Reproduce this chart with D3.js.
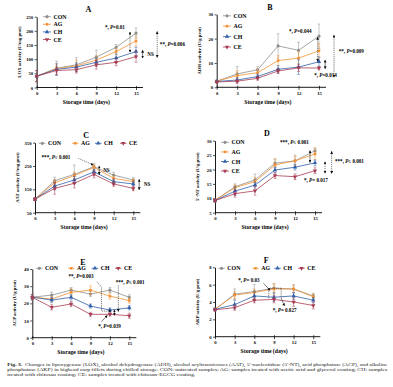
<!DOCTYPE html>
<html>
<head>
<meta charset="utf-8">
<script src="https://cdn.jsdelivr.net/npm/d3@7"></script>
<style>
  body { margin: 0; background: #fff; }
  svg { display: block; }
  text { font-family: "Liberation Serif", "Times New Roman", serif; }
</style>
</head>
<body>
<svg id="fig" width="393" height="387"></svg>
<script>
var days = [0, 3, 6, 9, 12, 15];
var groups = ["CON", "AG", "CH", "CE"];
var groupColors = ["#8f8f8f", "#f39233", "#2f5fa9", "#a83c52"];
var groupSymbols = [d3.symbolCircle, d3.symbolSquare, d3.symbolTriangle, d3.symbolTriangle];

// A - LOX
var loxTicks = [0, 50, 100, 150, 200, 250];
var loxMean = [
  [40, 68, 80, 107, 142, 192],
  [40, 67, 76, 97, 127, 164],
  [40, 64, 72, 89, 104, 127],
  [40, 60, 63, 80, 89, 109]
];
var loxErr = [
  [20, 25, 25, 25, 10, 18],
  [20, 15, 20, 15, 12, 18],
  [20, 20, 15, 15, 15, 15],
  [20, 15, 12, 15, 12, 20]
];
// B - ADH
var adhTicks = [0, 10, 20, 30];
var adhMean = [
  [2.5, 5.5, 7.2, 17, 15.2, 21],
  [2.5, 4.8, 6, 11, 12, 15],
  [2.4, 3, 4.4, 7.4, 8.3, 10.5],
  [2.2, 2.5, 3.7, 6.7, 8, 7.9]
];
var adhErr = [
  [0.4, 3, 1.3, 5, 3.3, 5],
  [0.4, 2, 1.5, 2, 2.5, 3],
  [0.4, 1, 1, 1.5, 3, 2],
  [0.4, 1, 0.8, 1, 1.5, 0.8]
];
// C - AAT
var aatTicks = [50, 150, 250, 350];
var aatMean = [
  [108, 187, 214, 247, 211, 190],
  [108, 178, 209, 244, 197, 183],
  [108, 164, 190, 225, 183, 173],
  [108, 154, 176, 214, 173, 154]
];
var aatErr = [
  [6, 15, 40, 15, 12, 10],
  [6, 12, 15, 12, 10, 10],
  [6, 15, 15, 12, 10, 10],
  [6, 25, 20, 15, 10, 10]
];
// D - 5'-NT
var ntTicks = [5, 10, 15, 20, 25, 30];
var ntMean = [
  [9.3, 14, 16.4, 22.2, 23, 26.5],
  [9.3, 13.7, 15.8, 21.6, 23, 25.4],
  [9.2, 12.5, 14.6, 19.8, 20.8, 22.3],
  [9.2, 11.6, 12.6, 17.9, 17.5, 19.6]
];
var ntErr = [
  [0.5, 1, 2, 1.5, 2, 1],
  [0.5, 1, 1.5, 2, 1.5, 2],
  [0.5, 1.5, 1, 1, 1, 1],
  [0.5, 1.2, 1.5, 1, 1, 1]
];
// E - ACP
var acpTicks = [0, 10, 20, 30, 40];
var acpMean = [
  [23.6, 24.8, 27.7, 25.4, 27.7, 23.5],
  [23.6, 22.5, 26.4, 27.7, 24.2, 21.6],
  [23.6, 21.9, 23.5, 18.4, 16.1, 17.4],
  [23.5, 17.7, 19.6, 13.6, 13.6, 12.8]
];
var acpErr = [
  [1.5, 1.8, 1.5, 1.5, 1.5, 1.5],
  [1.5, 1.5, 2, 2.5, 1.8, 1.5],
  [1.5, 1.5, 1.5, 1.2, 1.2, 1.2],
  [1.5, 1.5, 1.5, 1.2, 1, 1.5]
];
// F - AKP
var akpTicks = [0, 2, 4, 6, 8];
var akpMean = [
  [3.15, 4.9, 5.2, 5.6, 5.5, 4.7],
  [3.15, 4.8, 5.1, 5.5, 5.5, 4.6],
  [3.15, 3.7, 4.7, 4.55, 4.7, 4.2],
  [3.1, 3.35, 4.2, 4.3, 4.0, 3.6]
];
var akpErr = [
  [0.15, 0.6, 0.8, 0.5, 0.5, 0.3],
  [0.15, 0.4, 0.4, 0.6, 0.4, 0.3],
  [0.15, 0.5, 0.5, 0.5, 0.4, 0.3],
  [0.15, 0.3, 0.3, 0.4, 0.5, 0.4]
];

var captionLines = [
  "Changes in lipoxygenase (LOX), alcohol dehydrogenase (ADH), alcohol acyltransferases (AAT), 5\u2032-nucleotidase (5\u2032-NT), acid phosphatase (ACP), and alkaline",
  "phosphatase (AKP) in bighead carp fillets during chilled storage. CON: untreated samples; AG: samples treated with acetic acid and glycerol coating; CH: samples",
  "treated with chitosan coating; CE: samples treated with chitosan-EGCG coating."
];
var captionWidths = [380, 380, 188];

var svg = d3.select("#fig");
var defs = svg.append("defs");
defs.append("marker")
  .attr("id", "ah")
  .attr("viewBox", "0 0 10 10")
  .attr("refX", 9).attr("refY", 5)
  .attr("markerWidth", 2.8).attr("markerHeight", 2.8)
  .attr("markerUnits", "userSpaceOnUse")
  .attr("orient", "auto-start-reverse")
  .append("path").attr("d", "M0,0L10,5L0,10z").attr("fill", "#111");

var panels = [
  { letter: "A", ylabel: "LOX activity (U/mg prot)", means: loxMean, errs: loxErr, ticks: loxTicks,
    x0: 36.7, x15: 136, yTop: 16.7, yBot: 87.5,
    legend: { type: "v", x: 43, y: 16.7, dy: 7.6 },
    notes: [
      { d: 10.3, v: 208, t: "*, P=0.01" },
      { d: 16.7, v: 112, t: "NS" },
      { d: 18.6, v: 147, t: "**, P=0.006" }
    ],
    arrows: [
      { a: [14.1, 196], b: [14.1, 125], dash: true, both: true },
      { a: [16.0, 132], b: [16.0, 104], dash: false, both: true },
      { a: [18.2, 198], b: [18.2, 106], dash: true, both: true }
    ] },
  { letter: "B", ylabel: "ADH activity (U/g prot)", means: adhMean, errs: adhErr, ticks: adhTicks,
    x0: 216.7, x15: 319, yTop: 14.3, yBot: 87.3,
    legend: { type: "v", x: 223, y: 15.8, dy: 10.4 },
    notes: [
      { d: 10.6, v: 22.2, t: "*, P=0.044" },
      { d: 17.9, v: 13.9, t: "**, P=0.009" },
      { d: 14.3, v: 4.1, t: "*, P=0.014" }
    ],
    arrows: [
      { a: [14.8, 20.6], b: [14.8, 10.6], dash: true, both: true },
      { a: [15.9, 11.2], b: [15.9, 7.6], dash: false, both: true },
      { a: [17.2, 21.5], b: [17.2, 4.1], dash: true, both: true }
    ] },
  { letter: "C", ylabel: "AAT activity (U/mg prot)", means: aatMean, errs: aatErr, ticks: aatTicks,
    x0: 35, x15: 133.3, yTop: 142.6, yBot: 212.7,
    legend: { type: "h", xs: [39, 72, 95, 120], y: 143.3 },
    notes: [
      { d: 1.0, v: 280, t: "***, P\u2264 0.001" },
      { d: 10.4, v: 224, t: "NS" },
      { d: 16.6, v: 163, t: "NS" }
    ],
    arrows: [
      { a: [6.6, 283], b: [8.9, 254], dash: true, both: false },
      { a: [9.8, 250], b: [9.8, 213], dash: false, both: true },
      { a: [15.9, 193], b: [15.9, 148], dash: false, both: true }
    ] },
  { letter: "D", ylabel: "5\u2032-NT activity (U/g prot)", means: ntMean, errs: ntErr, ticks: ntTicks,
    x0: 215, x15: 315, yTop: 140.7, yBot: 212.7,
    legend: { type: "v", x: 221, y: 142.3, dy: 9.6 },
    notes: [
      { d: 9.75, v: 29.0, t: "***, P\u2264 0.001" },
      { d: 18.0, v: 22.1, t: "***, P\u2264 0.001" },
      { d: 13.35, v: 15.7, t: "*, P= 0.017" }
    ],
    arrows: [
      { a: [14.25, 26.6], b: [14.25, 22.4], dash: false, both: true },
      { a: [16.5, 22.7], b: [16.5, 18.7], dash: true, both: true },
      { a: [17.5, 26.3], b: [17.5, 18.6], dash: true, both: true }
    ] },
  { letter: "E", ylabel: "ACP activity (U/g prot)", means: acpMean, errs: acpErr, ticks: acpTicks,
    x0: 32.3, x15: 129.3, yTop: 269, yBot: 337.7,
    legend: { type: "h", xs: [36, 68, 91.7, 115], y: 268.3 },
    notes: [
      { d: 5.6, v: 34.5, t: "**, P=0.003" },
      { d: 12.9, v: 31.0, t: "***, P\u2264 0.001" },
      { d: 10.2, v: 5.8, t: "*, P=0.039" }
    ],
    arrows: [
      { pts: [[10.0, 32.6], [10.7, 29.5], [10.7, 15.5], [12.2, 15.5]], dash: true, both: false },
      { a: [13.3, 30.5], b: [13.3, 15.2], dash: true, both: false },
      { a: [12.7, 16.2], b: [12.7, 13.0], dash: false, both: true },
      { a: [10.7, 9.3], b: [11.6, 13.0], dash: false, both: false }
    ] },
  { letter: "F", ylabel: "AKP activity (U/g prot)", means: akpMean, errs: akpErr, ticks: akpTicks,
    x0: 215, x15: 313.3, yTop: 267.3, yBot: 336.7,
    legend: { type: "h", xs: [218.3, 252.3, 274.3, 298.3], y: 268.3 },
    notes: [
      { d: 3.55, v: 6.35, t: "*, P= 0.03" },
      { d: 8.8, v: 2.85, t: "*, P= 0.027" }
    ],
    arrows: [
      { a: [7.4, 6.16], b: [8.4, 5.35], dash: false, both: false },
      { pts: [[8.2, 4.45], [8.2, 5.58], [10.1, 5.58], [10.1, 4.45]], dash: true, both: false, noHead: true },
      { a: [10.1, 4.45], b: [10.6, 3.55], dash: false, both: false }
    ] }
];

panels.forEach(drawPanel);

function drawPanel(p) {
  var x = d3.scaleLinear().domain([0, 15]).range([p.x0, p.x15]);
  var y = d3.scaleLinear().domain([p.ticks[0], p.ticks[p.ticks.length - 1]]).range([p.yBot, p.yTop]);
  var g = svg.append("g");

  // y axis
  var ya = g.append("g")
    .attr("transform", "translate(" + p.x0 + ",0)")
    .call(d3.axisLeft(y).tickValues(p.ticks).tickSize(2).tickPadding(1.5).tickSizeOuter(0));
  // x axis
  var xa = g.append("g")
    .attr("transform", "translate(0," + p.yBot + ")")
    .call(d3.axisBottom(x).tickValues(days).tickSize(2.5).tickPadding(1.8));
  xa.select(".domain").remove();
  xa.selectAll(".tick line").attr("y1", -1.5);
  xa.append("line")
    .attr("x1", p.x0).attr("x2", p.x15 + 7)
    .attr("stroke", "#000").attr("stroke-width", 0.9);
  [ya, xa].forEach(function (a) {
    a.select(".domain").attr("stroke-width", 0.9);
    a.selectAll(".tick line").attr("stroke-width", 0.7);
    a.selectAll(".tick text")
      .style("font-family", "Liberation Serif, serif")
      .style("font-size", "4.7px").style("font-weight", "bold").attr("fill", "#000");
  });

  // axis titles
  g.append("text")
    .attr("x", (p.x0 + p.x15) / 2).attr("y", p.yBot + 16.5)
    .attr("text-anchor", "middle")
    .style("font-size", "5.7px").style("font-weight", "bold")
    .text("Storage time (days)");
  g.append("text")
    .attr("transform", "translate(" + (p.x0 - 16) + "," + ((p.yTop + p.yBot) / 2) + ") rotate(-90)")
    .attr("text-anchor", "middle")
    .style("font-size", "4.7px").style("font-weight", "bold")
    .text(p.ylabel);
  g.append("text")
    .attr("x", (p.x0 + p.x15) / 2 + 2).attr("y", p.yTop - 4.5)
    .attr("text-anchor", "middle")
    .style("font-size", "8px").style("font-weight", "bold")
    .text(p.letter);

  // series
  var line = d3.line()
    .x(function (d, i) { return x(days[i]); })
    .y(function (d) { return y(d); });

  p.means.forEach(function (series, k) {
    var col = groupColors[k];
    var sg = g.append("g");
    sg.selectAll(".eb")
      .data(series)
      .enter().append("path")
      .attr("d", function (d, i) {
        var cx = x(days[i]), y1 = y(d + p.errs[k][i]), y2 = y(d - p.errs[k][i]);
        return "M" + cx + "," + y1 + "V" + y2 +
          "M" + (cx - 1.4) + "," + y1 + "H" + (cx + 1.4) +
          "M" + (cx - 1.4) + "," + y2 + "H" + (cx + 1.4);
      })
      .attr("stroke", col).attr("stroke-width", 0.5).attr("fill", "none");
    sg.append("path")
      .datum(series)
      .attr("d", line)
      .attr("fill", "none").attr("stroke", col).attr("stroke-width", 0.8);
    sg.selectAll(".pt")
      .data(series)
      .enter().append("path")
      .attr("d", d3.symbol().type(groupSymbols[k]).size(k === 1 ? 6.5 : 8))
      .attr("transform", function (d, i) {
        return "translate(" + x(days[i]) + "," + y(d) + ")" + (k === 3 ? " rotate(180)" : "");
      })
      .attr("fill", col);
  });

  // legend
  groups.forEach(function (name, k) {
    var lx, ly;
    if (p.legend.type === "v") { lx = p.legend.x; ly = p.legend.y + k * p.legend.dy; }
    else { lx = p.legend.xs[k]; ly = p.legend.y; }
    var w = p.legend.type === "v" ? 8 : 6.5;
    g.append("line")
      .attr("x1", lx).attr("x2", lx + w).attr("y1", ly).attr("y2", ly)
      .attr("stroke", groupColors[k]).attr("stroke-width", 0.8);
    g.append("path")
      .attr("d", d3.symbol().type(groupSymbols[k]).size(k === 1 ? 6.5 : 8))
      .attr("transform", "translate(" + (lx + w / 2) + "," + ly + ")" + (k === 3 ? " rotate(180)" : ""))
      .attr("fill", groupColors[k]);
    g.append("text")
      .attr("x", lx + w + 2.5).attr("y", ly + 2)
      .style("font-size", "5.9px").style("font-weight", "bold")
      .text(name);
  });

  // annotations
  p.notes.forEach(function (n) {
    var t = g.append("text")
      .attr("x", x(n.d)).attr("y", y(n.v))
      .style("font-size", "5.1px").style("font-weight", "bold");
    var idx = n.t.indexOf("P");
    if (idx < 0) { t.text(n.t); return; }
    t.append("tspan").text(n.t.slice(0, idx).replace(/\s+$/, "") + "\u00a0");
    t.append("tspan").style("font-style", "italic").text("P");
    t.append("tspan").text(n.t.slice(idx + 1));
  });
  p.arrows.forEach(function (a) {
    var pts = a.pts ? a.pts : [a.a, a.b];
    var el = g.append("path")
      .attr("d", d3.line().x(function (d) { return x(d[0]); }).y(function (d) { return y(d[1]); })(pts))
      .attr("fill", "none").attr("stroke", "#111").attr("stroke-width", 0.55);
    if (a.dash) el.attr("stroke-dasharray", "1.2,0.9");
    if (!a.noHead) el.attr("marker-end", "url(#ah)");
    if (a.both) el.attr("marker-start", "url(#ah)");
  });
}

// caption
var cap = svg.append("g").attr("fill", "#222");
captionLines.forEach(function (s, i) {
  var t = cap.append("text")
    .attr("x", 7.3).attr("y", 366 + i * 4.9)
    .style("font-size", "4.1px");
  if (i === 0) {
    t.append("tspan").style("font-weight", "bold").text("Fig. 3.");
    t.append("tspan").text("\u00a0 " + s);
  } else {
    t.text(s);
  }
  t.attr("textLength", captionWidths[i]).attr("lengthAdjust", "spacingAndGlyphs");
});
</script>
</body>
</html>
